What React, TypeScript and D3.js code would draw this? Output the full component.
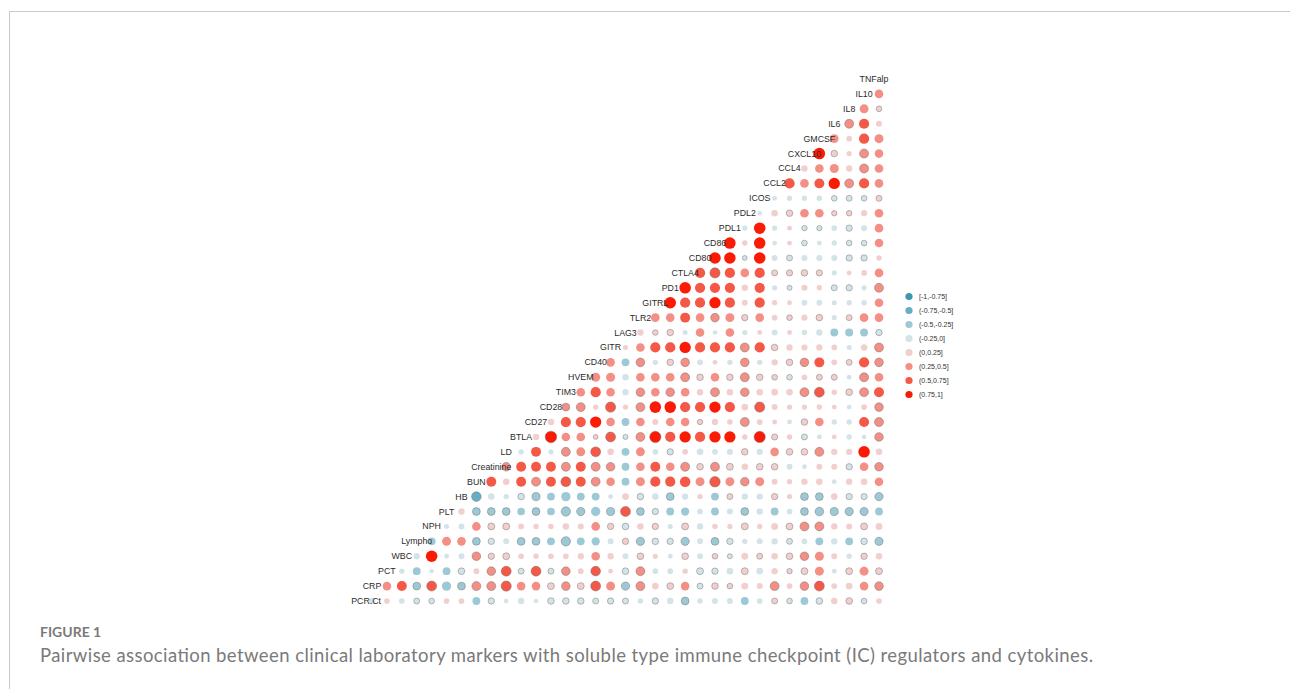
import React from "react";
import * as d3 from "d3";

const variables = ["PCR.Ct","CRP","PCT","WBC","Lympho","NPH","PLT","HB","BUN","Creatinine","LD","BTLA","CD27","CD28","TIM3","HVEM","CD40","GITR","LAG3","TLR2","GITRL","PD1","CTLA4","CD80","CD86","PDL1","PDL2","ICOS","CCL2","CCL4","CXCL10","GMCSF","IL6","IL8","IL10","TNFalp"];

// each row: correlation of that variable with every later variable
const rPCRCt = [-0.15,0.1,-0.1,-0.12,-0.1,0.1,0.1,-0.3,-0.15,-0.04,-0.15,-0.04,-0.17,-0.17,-0.17,-0.12,-0.15,-0.12,-0.08,-0.15,-0.15,-0.3,-0.08,-0.12,-0.12,-0.3,-0.1,0.12,-0.1,-0.3,-0.18,0.17,0.18,-0.1,0.1];
const rCRP = [0.4,0.6,-0.3,0.6,-0.5,-0.3,0.45,0.45,0.65,0.4,0.4,0.2,0.4,0.2,0.6,0.45,-0.35,0.45,0.18,0.18,0.4,-0.12,0.17,0.1,0.2,0.12,0.45,0.1,0.4,0.6,0.1,0.2,0.4,0.4];
const rPCT = [-0.08,-0.3,-0.03,-0.3,-0.18,0.12,0.4,0.6,-0.12,0.6,-0.12,0.4,0.1,0.55,0.05,-0.18,0.45,-0.1,-0.1,0.08,-0.2,-0.15,-0.17,0.2,-0.17,0.15,0.08,0.2,0.45,-0.05,0.2,0.45,0.2];
const rWBC = [-0.15,0.9,-0.05,-0.12,0.4,0.15,0.2,0.1,0.08,0.1,0.1,0.15,0.4,0.15,-0.12,0.18,0.07,-0.05,0.18,-0.12,0.1,-0.06,0.2,0.12,0.17,0.18,0.4,0.45,0.12,-0.08,0.15,0.17];
const rLympho = [-0.3,0.45,0.4,-0.3,-0.15,-0.12,-0.3,-0.3,-0.3,-0.5,-0.3,-0.35,-0.12,0.15,-0.35,-0.17,-0.15,-0.35,-0.12,-0.3,-0.15,-0.08,-0.12,-0.15,-0.12,-0.1,-0.3,-0.15,-0.3,-0.17,-0.35];
const rNPH = [-0.06,-0.12,0.4,0.2,0.2,0.1,0.07,0.09,0.17,0.12,0.4,0.15,-0.18,0.17,0.15,-0.06,0.2,-0.15,0.08,0.07,0.2,0.07,0.2,0.2,0.45,0.45,0.15,0.12,0.2,0.2];
const rPLT = [0.15,-0.3,-0.3,-0.3,-0.28,-0.3,-0.28,-0.5,-0.35,-0.5,-0.33,0.6,-0.3,-0.15,-0.3,-0.35,-0.1,-0.3,-0.12,-0.3,-0.15,-0.3,-0.1,-0.3,-0.4,-0.33,-0.35,-0.35,-0.3];
const rHB = [-0.55,-0.17,-0.08,-0.17,-0.33,-0.3,-0.5,-0.3,-0.3,-0.05,0.2,-0.17,-0.17,-0.3,-0.15,0.08,-0.3,0.12,-0.15,-0.15,0.15,0.07,-0.3,-0.3,0.18,-0.15,-0.14,-0.35];
const rBUN = [0.6,0.17,0.6,0.45,0.6,0.6,0.6,0.45,0.4,-0.3,0.45,0.65,0.65,0.7,0.45,0.7,0.45,0.4,0.45,0.12,0.07,0.15,0.17,-0.05,0.15,0.17,0.4];
const rCreatinine = [0.4,0.6,0.6,0.6,0.45,0.6,0.45,0.4,-0.3,0.4,0.6,0.4,0.45,0.18,0.45,0.2,0.17,0.18,0.17,-0.12,-0.05,0.12,0.12,-0.15,0.4,0.4];
const rLD = [-0.08,0.6,-0.06,0.45,0.45,0.6,0.17,-0.3,0.45,-0.1,-0.15,0.1,-0.17,-0.1,-0.14,0.17,-0.14,0.4,0.18,0.18,0.45,0.15,0.15,0.9,0.17];
const rBTLA = [0.15,0.9,0.4,0.4,0.05,0.6,-0.06,0.45,0.85,0.65,0.85,0.65,0.85,0.85,0.08,0.85,0.13,0.08,-0.12,-0.05,0.05,-0.08,-0.04,0.4];
const rCD27 = [0.17,0.65,0.65,0.85,0.4,-0.3,0.4,0.12,0.4,0.4,0.08,0.15,0.09,0.45,0.1,0.05,-0.05,0.17,0.4,-0.08,-0.08,0.6,0.45];
const rCD28 = [0.3,0.45,0.08,0.65,0.08,0.45,0.9,0.9,0.65,0.65,0.85,0.65,0.18,0.65,0.12,0.08,0.08,0.09,0.05,-0.05,0.1,0.4];
const rTIM3 = [0.4,0.65,0.4,-0.15,0.4,0.4,0.4,0.4,0.15,0.45,0.17,0.4,0.17,0.18,0.17,0.45,0.6,0.08,0.18,0.45,0.6];
const rHVEM = [0.45,0.45,-0.17,0.4,0.4,0.4,0.45,0.17,0.4,0.17,0.45,0.17,0.1,-0.1,0.1,0.12,0.12,-0.05,0.45,0.4];
const rCD40 = [0.4,-0.3,0.4,-0.08,0.17,0.4,-0.12,0.05,-0.08,0.4,-0.08,0.15,0.17,0.4,0.6,0.1,0.12,0.65,0.4];
const rGITR = [0.06,0.4,0.65,0.65,0.85,0.65,0.65,0.65,0.45,0.65,0.17,0.15,0.13,0.15,0.1,-0.06,0.17,0.45];
const rLAG3 = [0.15,0.09,0.17,-0.06,0.4,-0.04,0.4,-0.07,0.05,-0.12,0.05,-0.08,-0.15,-0.3,-0.32,-0.3,-0.15];
const rTLR2 = [0.4,0.4,0.6,0.4,0.4,0.45,0.15,0.4,0.1,0.1,0.13,0.17,-0.06,0.12,0.4,0.4];
const rGITRL = [0.9,0.65,0.65,0.85,0.65,0.1,0.65,0.07,0.05,-0.1,-0.1,-0.06,-0.08,-0.08,0.4];
const rPD1 = [0.9,0.65,0.65,0.65,0.15,0.65,-0.07,-0.06,0.13,0.08,-0.13,-0.15,-0.07,0.45];
const rCTLA4 = [0.65,0.65,0.65,0.4,0.65,0.12,0.14,0.17,0.14,-0.06,0.05,0.1,0.4];
const rCD80 = [0.9,0.9,-0.05,0.9,-0.12,-0.12,-0.13,-0.13,-0.12,-0.15,-0.15,0.08];
const rCD86 = [0.9,0.08,0.9,-0.05,0.05,-0.1,-0.05,-0.08,-0.1,-0.1,0.4];
const rPDL1 = [-0.06,0.9,-0.07,0.05,-0.08,-0.07,-0.09,-0.15,-0.12,0.4];
const rPDL2 = [-0.04,0.17,0.17,0.4,0.4,0.08,0.09,0.14,0.4];
const rICOS = [-0.05,-0.08,-0.08,-0.09,-0.1,-0.12,-0.1,0.13];
const rCCL2 = [0.65,0.4,0.6,0.85,0.45,0.65,0.4];
const rCCL4 = [0.15,0.4,0.45,0.15,0.45,0.4];
const rCXCL10 = [0.9,0.17,0.07,0.45,0.4];
const rGMCSF = [0.4,0.1,0.65,0.45];
const rIL6 = [0.45,0.65,0.13];
const rIL8 = [0.45,0.1];
const rIL10 = [0.4];

const rows = [rPCRCt,rCRP,rPCT,rWBC,rLympho,rNPH,rPLT,rHB,rBUN,rCreatinine,rLD,rBTLA,rCD27,rCD28,rTIM3,rHVEM,rCD40,rGITR,rLAG3,rTLR2,rGITRL,rPD1,rCTLA4,rCD80,rCD86,rPDL1,rPDL2,rICOS,rCCL2,rCCL4,rCXCL10,rGMCSF,rIL6,rIL8,rIL10];

// cells whose dot shows a dark rim in the picture, as [row, column indices]
const ringedCells: [number, number[]][] = [
  [0,[3,4,8,12,13,14,15,16,17,19,21,27,28,30,32,33]],
  [1,[3,4,6,7,8,9,12,13,14,15,17,18,20,22,23,24,27,29,30,34]],
  [2,[6,8,9,10,11,12,13,15,17,18,22,23,25,28,29,32,34]],
  [3,[7,8,9,18,21,23,24,26,28,29,33]],
  [4,[7,8,10,11,13,17,18,19,20,21,23,24,28,33,34]],
  [5,[8,9,16,17,19,21,25,28,29,30,33]],
  [6,[7,8,9,11,13,14,16,17,18,19,25,29,30,31,32,33]],
  [7,[7,10,11,18,20,24,27,29,30,32,33,34]],
  [8,[11,13,15,23,25]],
  [9,[9,13,15,16,21,22,23,24,26,27,32,34]],
  [10,[13,15,20,25,28,29,30]],
  [11,[12,15,16,17,18,19,26,27,29,34]],
  [12,[22,25,29,34]],
  [13,[13,14,16,18,26,34]],
  [14,[18,20,23,25,29,30,32,33]],
  [15,[21,22,24,25,26,27,28,30,31,33]],
  [16,[18,20,21,25,28,29,32,34]],
  [17,[25,27,34]],
  [18,[19,20,34]],
  [19,[23,25,28,30,32]],
  [21,[28,31,32,34]],
  [22,[23,27,28,29,30]],
  [23,[25,28,32,33]],
  [24,[29,32,33]],
  [25,[29,30,32]],
  [26,[28,31,32]],
  [27,[31,32,33,34]],
  [28,[32]],
  [29,[33]],
  [30,[31,33]],
  [32,[32]],
  [33,[34]],
];

const binLabels = ["[-1,-0.75]","(-0.75,-0.5]","(-0.5,-0.25]","(-0.25,0]","(0,0.25]","(0.25,0.5]","(0.5,0.75]","(0.75,1]"];
const binColors = ["#3d97b3","#67aec4","#9dc9d6","#d4e3e7","#f1cfce","#f38f85","#f45846","#fb1a04"];
const binThresholds = [-0.75,-0.5,-0.25,0,0.25,0.5,0.75];

const labelShift: Record<string, number> = { "PCR.Ct": 9, TNFalp: -5 };

const xs = d3.scaleLinear().domain([0, 34]).range([372, 879]);
const ys = d3.scaleLinear().domain([0, 35]).range([601, 79]);
const colour = d3.scaleThreshold<number, string>().domain(binThresholds).range(binColors);
const radius = d3.scaleSqrt().domain([0, 1]).range([1.4, 6]);
const ringed = new Set(ringedCells.flatMap(([r, cols]) => cols.map((c) => `${r}-${c}`)));

const labelFont = "'Liberation Sans', Arial, sans-serif";
const capFont = "Lato, 'Open Sans', sans-serif";

export default function App() {
  return (
    <svg width={1290} height={689} style={{ position: "absolute", left: 0, top: 0, display: "block", background: "#fff" }}>
      <path d="M9.5,689V11.5H1290" fill="none" stroke="#c9c9c9" strokeWidth={1} />
      <g>
        {rows.flatMap((vals, r) =>
          vals.map((v, i) => {
            const c = r + i;
            const rim = ringed.has(`${r}-${c}`);
            return (
              <circle
                key={`${r}-${i}`}
                cx={xs(c)}
                cy={ys(r)}
                r={radius(Math.abs(v))}
                fill={colour(v)}
                stroke={rim ? "#6f6f6f" : "none"}
                strokeOpacity={0.65}
                strokeWidth={rim ? 0.7 : 0}
              />
            );
          })
        )}
      </g>
      <g fontFamily={labelFont} fontSize={8.8} fill="#2b2b2b" textAnchor="middle">
        {variables.map((name, r) => (
          <text key={name} x={xs(r - 1) + (labelShift[name] ?? 0)} y={ys(r) + 3}>{name}</text>
        ))}
      </g>
      <g fontFamily={labelFont} fontSize={7} fill="#333">
        {binLabels.map((lab, i) => (
          <g key={lab} transform={`translate(0,${296.5 + i * 14})`}>
            <circle cx={909} cy={0} r={3.6} fill={binColors[i]} />
            <text x={919} y={2.4}>{lab}</text>
          </g>
        ))}
      </g>
      <text x={40} y={637} fontFamily={capFont} fontWeight={700} fontSize={14} fill="#7a7a7a">FIGURE 1</text>
      <text x={40} y={662} fontFamily={capFont} fontSize={18.5} fill="#7a7a7a" textLength={1053} lengthAdjust="spacing">Pairwise association between clinical laboratory markers with soluble type immune checkpoint (IC) regulators and cytokines.</text>
    </svg>
  );
}
